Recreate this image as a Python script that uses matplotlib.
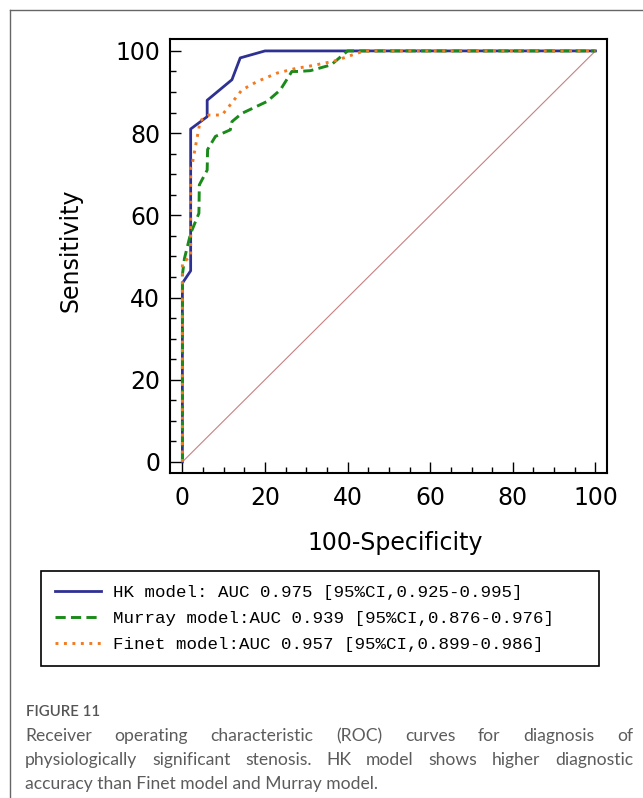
import matplotlib
matplotlib.use("Agg")
import matplotlib.pyplot as plt
from matplotlib.lines import Line2D

# ROC curve points (100-specificity, sensitivity)
hk_x = [0, 0, 2, 2, 6, 6, 12, 14, 20, 100]
hk_y = [0, 43.5, 46.5, 81, 84, 88, 93, 98.3, 100, 100]

murray_x = [0, 0, 0.5, 2, 4, 4.1, 6, 6.1, 8, 11.6, 12, 14.4, 20.5, 23.7,
            26.5, 28, 31, 36, 40, 100]
murray_y = [0, 45.5, 49.5, 55.6, 60.5, 67.4, 71, 76, 79.2, 80.8, 82.8, 84.8,
            87.7, 90.5, 95, 95, 95.2, 96.6, 100, 100]

finet_x = [0, 0, 2, 2, 2.3, 3.9, 4.3, 6.4, 9.6, 11.6, 14.4, 18, 22.9, 27.7,
           30.3, 36.7, 44, 100]
finet_y = [0, 48.4, 50, 71.5, 72, 80.7, 83, 84.4, 84.4, 86.9, 90.5, 92.5,
           94.6, 95.8, 96.2, 97.5, 100, 100]

legend_labels = [
    "HK model: AUC 0.975 [95%CI,0.925-0.995]",
    "Murray model:AUC 0.939 [95%CI,0.876-0.976]",
    "Finet model:AUC 0.957 [95%CI,0.899-0.986]",
]

caption_title = "FIGURE 11"
caption_lines = [
    "Receiver operating characteristic (ROC) curves for diagnosis of",
    "physiologically significant stenosis. HK model shows higher diagnostic",
    "accuracy than Finet model and Murray model.",
]

W, H = 643, 798
fig = plt.figure(figsize=(W / 100, H / 100), dpi=100)

# outer frame of the figure panel (top + left only)
fig.add_artist(Line2D([9.5 / W, 1], [1 - 9.5 / H, 1 - 9.5 / H], color="#666666", lw=1))
fig.add_artist(Line2D([9.5 / W, 9.5 / W], [0, 1 - 9.5 / H], color="#666666", lw=1))

ax = fig.add_axes([170 / W, 1 - 473 / H, 437 / W, 434 / H])

ax.plot([0, 100], [0, 100], color="#c98080", lw=0.8)
l1, = ax.plot(hk_x, hk_y, color="#2e3192", lw=2.0)
l2, = ax.plot(murray_x, murray_y, color="#1a8a1a", lw=2.1, linestyle=(0, (3.5, 1.8)))
l3, = ax.plot(finet_x, finet_y, color="#f47a20", lw=2.1, linestyle=(0, (1, 1.9)))

ax.set_xlim(-3, 102.8)
ax.set_ylim(-2.7, 102.9)
ax.set_xticks(range(0, 101, 20))
ax.set_yticks(range(0, 101, 20))
ax.set_xticks(range(0, 101, 5), minor=True)
ax.set_yticks(range(0, 101, 5), minor=True)

lab_font = {"family": "DejaVu Sans", "size": 17}
ax.tick_params(which="major", direction="in", length=8, width=1)
ax.tick_params(axis="y", which="major", pad=7)
ax.tick_params(axis="x", which="major", pad=9)
ax.tick_params(which="minor", direction="in", length=4.5, width=1)
for lab in ax.get_xticklabels() + ax.get_yticklabels():
    lab.set_fontfamily("DejaVu Sans")
    lab.set_fontsize(17)
for sp in ax.spines.values():
    sp.set_linewidth(1.5)

ax.set_xlabel("100-Specificity", fontdict=lab_font)
ax.set_ylabel("Sensitivity", fontdict=lab_font)
ax.xaxis.set_label_coords((395 - 170) / 437, (473 - 531) / 434)
ax.yaxis.set_label_coords((83 - 170) / 437, (473 - 250) / 434)

fig.legend([l1, l2, l3], legend_labels,
           loc="upper left", bbox_to_anchor=(41 / W, 1 - 571 / H, 558 / W, 0),
           mode="expand", borderaxespad=0, fancybox=False,
           edgecolor="black", framealpha=1,
           prop={"family": "Liberation Mono", "size": 12.6},
           handlelength=2.6, handletextpad=0.72, borderpad=0.8,
           labelspacing=0.62)
fig.legends[0].get_frame().set_linewidth(1.2)

# caption
fig.text(26 / W, 1 - 716 / H, caption_title, family="Lato", weight="semibold",
         size=10.8, color="#555555", va="baseline")

cap_kw = dict(family="Lato", size=12.6, color="#5c5c5c", va="baseline")
renderer = fig.canvas.get_renderer()
x_left, x_right = 25, 633
baselines = [741, 765, 789]
for i, (line, base) in enumerate(zip(caption_lines, baselines)):
    y = 1 - base / H
    if i == len(caption_lines) - 1:
        fig.text(x_left / W, y, line, **cap_kw)
        continue
    words = line.split()
    objs = [fig.text(0, y, w, **cap_kw) for w in words]
    widths = [o.get_window_extent(renderer).width for o in objs]
    gap = (x_right - x_left - sum(widths)) / (len(words) - 1)
    x = x_left
    for o, w in zip(objs, widths):
        o.set_x(x / W)
        x += w + gap

fig.savefig("out.png", dpi=100)
